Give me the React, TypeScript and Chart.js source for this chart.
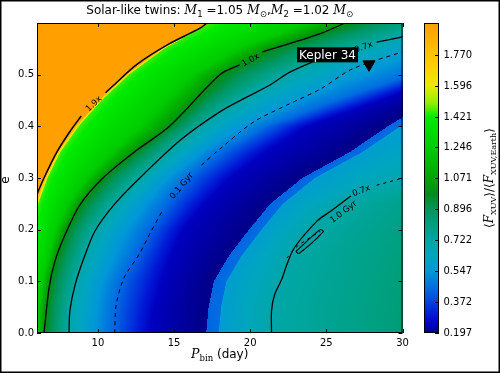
import React, { useEffect, useRef } from 'react';
import { Chart, registerables } from 'chart.js';
Chart.register(...registerables);

// ---- field description: per eccentricity row, period (days) where each level sits ----
const eRows = [0, 0.05, 0.1, 0.15, 0.2, 0.25, 0.3, 0.35, 0.4, 0.45, 0.5, 0.55, 0.6];
const pLevel190 = [4.6, 4.7, 4.9, 5.2, 5.5, 5.85, 6.46, 7.3, 8.5, 10.0, 11.8, 14.1, 17.1];
const pLevel100 = [6.45, 6.6, 6.85, 7.3, 7.9, 8.85, 10.3, 12.3, 14.6, 16.3, 18.0, 21.2, 26.3];
const pLevel070 = [8.1, 8.2, 8.55, 9.15, 9.85, 11.1, 12.75, 14.8, 16.8, 19.2, 22.3, 26.8, 32.5];
const pLevel045 = [10.8, 11.0, 11.4, 12.3, 13.2, 14.4, 15.8, 18.0, 21.0, 25.5, 30.5, 35.0, 40.0];
const pTrough = [13.4, 13.7, 14.2, 14.8, 15.6, 17.0, 18.7, 21.0, 23.7, 28.5, 33.0, 38.0, 43.0];
const pJump = [17.1, 17.25, 17.6, 18.6, 19.9, 21.3, 23.4, 26.5, 29.0, 31.8, 35.0, 40.0, 45.0];
const pOuter070 = [21.4, 21.45, 22.0, 22.7, 23.9, 25.8, 30.5, 34.0, 38.0, 41.0, 44.0, 47.0, 50.0];
const pOuter084 = [30.5, 30.6, 31.0, 31.5, 32.5, 34.0, 38.5, 42.0, 46.0, 49.0, 52.0, 55.0, 58.0];
const fieldLevels = [1.94, 1.94, 1.45, 1.24, 1.0, 0.7, 0.45, 0.24, 0.19, 0.43, 0.45, 0.58, 0.7, 0.84];

// ---- contour lines (P, e); null = gap for inline label ----
const c190P = [5.9, 6.46, 7.3, 8.16, 8.9, null, 10.5, 11.05, 12.56, 14.7, 16.7, 17.4];
const c190E = [0.262, 0.3, 0.35, 0.39, 0.42, null, 0.465, 0.48, 0.52, 0.56, 0.59, 0.605];
const c100P = [6.46, 6.79, 7.18, 7.84, 8.82, 10.33, 12.56, 14.7, 18.0, 19.3, null, 20.8, 24.56, 26.6];
const c100E = [0, 0.087, 0.139, 0.19, 0.248, 0.3, 0.354, 0.4, 0.5, 0.519, null, 0.544, 0.579, 0.605];
const c070P = [8.1, 8.16, 8.5, 9.08, 9.8, 11.05, 12.75, 15.4, 18.0, 19.8, 21.3, 22.6, 25.0, 26.9, null, 28.3, 30.3];
const c070E = [0, 0.043, 0.093, 0.145, 0.197, 0.248, 0.3, 0.373, 0.428, 0.457, 0.48, 0.505, 0.535, 0.553, null, 0.563, 0.575];
const c070bP = [21.4, 21.4, 21.6, 22.1, 22.4, 22.9, 24.4, 25.3, 26.6];
const c070bE = [0, 0.043, 0.074, 0.106, 0.132, 0.165, 0.217, 0.236, 0.265];
const c070loopP = [23.0, 24.6, 24.8, 23.2, 23.0];
const c070loopE = [0.158, 0.2, 0.196, 0.154, 0.158];
const gyr01P = [11.1, 11.2, 11.7, 12.7, 13.5, 14.2, null, 16.8, 18.0, 20.2, 22.4, 24.6, 26.7, 30.3];
const gyr01E = [0, 0.054, 0.106, 0.152, 0.197, 0.235, null, 0.325, 0.356, 0.408, 0.441, 0.472, 0.511, 0.547];
const gyr10P = [22.4, 23.1, 24.6, null, 28.3, 30.3];
const gyr10E = [0.145, 0.168, 0.197, null, 0.286, 0.302];

// ---- inline labels ----
const labelText = ['1.9x', '1.0x', '0.7x', '0.7x', '0.1 Gyr', '1.0 Gyr'];
const labelP = [9.74, 20.03, 27.45, 27.3, 15.5, 26.13];
const labelE = [0.443, 0.528, 0.553, 0.275, 0.2845, 0.234];
const labelAngle = [-43, -29, -19, -20, -50, -37];

const keplerP = [27.8];
const keplerE = [0.52];
const keplerName = 'Kepler 34';

const xTicks = [10, 15, 20, 25, 30];
const yTicks = [0, 0.1, 0.2, 0.3, 0.4, 0.5];
const cbTicks = [0.197, 0.372, 0.547, 0.722, 0.896, 1.071, 1.246, 1.421, 1.596, 1.77];
const cbMin = 0.197;
const cbMax = 1.95;

const cmapV = [0.197, 0.24, 0.3, 0.36, 0.44, 0.55, 0.64, 0.72, 0.8, 0.89, 0.98, 1.07, 1.25, 1.42, 1.5, 1.6, 1.72, 1.95];
const cmapC = [
  [0, 0, 140], [0, 0, 192], [0, 25, 215], [0, 60, 222], [0, 105, 225], [0, 152, 216],
  [0, 166, 190], [0, 166, 160], [0, 160, 130], [0, 150, 95], [0, 140, 30], [0, 165, 0],
  [0, 205, 0], [0, 235, 0], [150, 240, 0], [235, 235, 0], [255, 205, 0], [255, 158, 0],
];

function cmap(v: number): number[] {
  if (v <= cmapV[0]) return cmapC[0];
  const n = cmapV.length;
  if (v >= cmapV[n - 1]) return cmapC[n - 1];
  let i = 0;
  while (i < n - 2 && v > cmapV[i + 1]) i++;
  const t = (v - cmapV[i]) / (cmapV[i + 1] - cmapV[i]);
  const a = cmapC[i], b = cmapC[i + 1];
  return [a[0] + t * (b[0] - a[0]), a[1] + t * (b[1] - a[1]), a[2] + t * (b[2] - a[2])];
}

function interpRow(arr: number[], e: number) {
  let i = 0;
  while (i < eRows.length - 2 && e > eRows[i + 1]) i++;
  const t = (e - eRows[i]) / (eRows[i + 1] - eRows[i]);
  return arr[i] + t * (arr[i + 1] - arr[i]);
}

function rowKnots(e: number) {
  const o = interpRow(pLevel190, e);
  const j = interpRow(pJump, e);
  const a1 = interpRow(pLevel100, e);
  return [
    o - 100, o, o + 0.25, o + 0.25 + 0.7 * (a1 - o - 0.25),
    a1, interpRow(pLevel070, e), interpRow(pLevel045, e),
    interpRow(pTrough, e), j - 0.001, j, j + 0.8, j + 0.85,
    interpRow(pOuter070, e), interpRow(pOuter084, e),
  ];
}

const heatPlugin = {
  id: 'heat',
  beforeDatasetsDraw(chart: any) {
    const { ctx, chartArea: a, scales } = chart;
    const xs = scales.x, ys = scales.y;
    const W = Math.round(a.right - a.left), H = Math.round(a.bottom - a.top);
    const off = document.createElement('canvas');
    off.width = W; off.height = H;
    const octx = off.getContext('2d')!;
    const img = octx.createImageData(W, H);
    const colP = new Float64Array(W);
    for (let i = 0; i < W; i++) colP[i] = xs.getValueForPixel(a.left + (i + 0.5) * (a.right - a.left) / W);
    for (let jy = 0; jy < H; jy++) {
      const e = ys.getValueForPixel(a.top + (jy + 0.5) * (a.bottom - a.top) / H);
      const pos = rowKnots(e);
      const last = pos.length - 1;
      let k = 0;
      for (let i = 0; i < W; i++) {
        const p = colP[i];
        let v: number;
        if (p <= pos[0]) v = fieldLevels[0];
        else if (p >= pos[last]) v = fieldLevels[last];
        else {
          while (k < last - 1 && p > pos[k + 1]) k++;
          const d = pos[k + 1] - pos[k];
          const t = d > 0 ? (p - pos[k]) / d : 1;
          v = fieldLevels[k] + t * (fieldLevels[k + 1] - fieldLevels[k]);
        }
        const c = cmap(v);
        const idx = (jy * W + i) * 4;
        img.data[idx] = c[0]; img.data[idx + 1] = c[1]; img.data[idx + 2] = c[2]; img.data[idx + 3] = 255;
      }
    }
    octx.putImageData(img, 0, 0);
    ctx.drawImage(off, a.left, a.top, a.right - a.left, a.bottom - a.top);
  },
};

type Piece = { t: string; f: string; dy?: number };
function piecesWidth(ctx: CanvasRenderingContext2D, ps: Piece[]) {
  let w = 0;
  for (const p of ps) { ctx.font = p.f; w += ctx.measureText(p.t).width; }
  return w;
}
function drawPieces(ctx: CanvasRenderingContext2D, ps: Piece[], cx: number, baseY: number) {
  let x = cx - piecesWidth(ctx, ps) / 2;
  ctx.textAlign = 'left';
  ctx.textBaseline = 'alphabetic';
  for (const p of ps) {
    ctx.font = p.f;
    ctx.fillText(p.t, x, baseY + (p.dy || 0));
    x += ctx.measureText(p.t).width;
  }
}

const SANS = '"DejaVu Sans", sans-serif';
const SERIF = '"DejaVu Serif", serif';

const overlayPlugin = {
  id: 'overlay',
  afterDatasetsDraw(chart: any) {
    const { ctx, scales } = chart;
    const xs = scales.x, ys = scales.y;
    ctx.save();
    ctx.fillStyle = '#000';
    ctx.font = `8.5px ${SANS}`;
    ctx.textAlign = 'center';
    ctx.textBaseline = 'middle';
    for (let i = 0; i < labelText.length; i++) {
      const px = xs.getPixelForValue(labelP[i]);
      const py = ys.getPixelForValue(labelE[i]);
      ctx.save();
      ctx.translate(px, py);
      ctx.rotate((labelAngle[i] * Math.PI) / 180);
      ctx.fillText(labelText[i], 0, 0);
      ctx.restore();
    }
    // Kepler 34 box
    const kx = xs.getPixelForValue(keplerP[0]);
    const ky = ys.getPixelForValue(keplerE[0]);
    ctx.font = `12px ${SANS}`;
    const tw = ctx.measureText(keplerName).width;
    const bx1 = kx - 11, bx0 = bx1 - tw - 4;
    const by0 = ky - 17, by1 = ky - 2;
    ctx.fillStyle = '#000';
    ctx.fillRect(bx0, by0, bx1 - bx0, by1 - by0);
    ctx.fillStyle = '#fff';
    ctx.textAlign = 'left';
    ctx.textBaseline = 'alphabetic';
    ctx.fillText(keplerName, bx0 + 2, by1 - 3);
    ctx.restore();
  },
  afterDraw(chart: any) {
    const { ctx, chartArea: a, scales } = chart;
    const xs = scales.x, ys = scales.y;
    ctx.save();
    ctx.strokeStyle = '#000';
    ctx.lineWidth = 1;
    ctx.beginPath();
    for (const v of xTicks) {
      const px = Math.round(xs.getPixelForValue(v)) + 0.5;
      ctx.moveTo(px, a.bottom); ctx.lineTo(px, a.bottom - 4);
      ctx.moveTo(px, a.top); ctx.lineTo(px, a.top + 4);
    }
    for (const v of yTicks) {
      const py = Math.round(ys.getPixelForValue(v)) + 0.5;
      ctx.moveTo(a.left, py); ctx.lineTo(a.left + 4, py);
      ctx.moveTo(a.right, py); ctx.lineTo(a.right - 4, py);
    }
    ctx.stroke();
    ctx.strokeRect(a.left + 0.5, a.top + 0.5, a.right - a.left - 1, a.bottom - a.top - 1);

    // colorbar
    const cbL = a.right + 21.5, cbW = 15, cbT = a.top, cbB = a.bottom;
    const hh = cbB - cbT;
    for (let y = 0; y < hh; y++) {
      const v = cbMin + ((hh - y - 0.5) / hh) * (cbMax - cbMin);
      const c = cmap(v);
      ctx.fillStyle = `rgb(${c[0] | 0},${c[1] | 0},${c[2] | 0})`;
      ctx.fillRect(cbL, cbT + y, cbW, 1.02);
    }
    ctx.strokeStyle = '#000';
    ctx.strokeRect(Math.round(cbL) + 0.5, cbT + 0.5, cbW - 1, hh - 1);
    ctx.fillStyle = '#000';
    ctx.font = `10px ${SANS}`;
    ctx.textAlign = 'left';
    ctx.textBaseline = 'middle';
    ctx.beginPath();
    for (const v of cbTicks) {
      const py = Math.round(cbB - ((v - cbMin) / (cbMax - cbMin)) * hh) + 0.5;
      ctx.moveTo(cbL + cbW - 4, py); ctx.lineTo(cbL + cbW, py);
      ctx.fillText(v.toFixed(3), cbL + cbW + 4.5, py);
    }
    ctx.stroke();

    // colorbar label
    ctx.save();
    ctx.translate(489, (cbT + cbB) / 2);
    ctx.rotate(-Math.PI / 2);
    drawPieces(ctx, [
      { t: '⟨', f: `12px ${SANS}` },
      { t: 'F', f: `italic 12px ${SERIF}` },
      { t: 'XUV', f: `8px ${SERIF}`, dy: 2.5 },
      { t: '⟩', f: `12px ${SANS}` },
      { t: '/', f: `12px ${SANS}` },
      { t: '⟨', f: `12px ${SANS}` },
      { t: 'F', f: `italic 12px ${SERIF}` },
      { t: 'XUV,Earth', f: `8px ${SERIF}`, dy: 2.5 },
      { t: '⟩', f: `12px ${SANS}` },
    ], 0, 4);
    ctx.restore();

    // title
    ctx.fillStyle = '#000';
    const sub = `8.5px ${SANS}`;
    const nrm = `12px ${SANS}`;
    const mi = `italic 12.5px ${SERIF}`;
    drawPieces(ctx, [
      { t: 'Solar-like twins: ', f: nrm },
      { t: 'M', f: mi }, { t: '1', f: sub, dy: 2.5 }, { t: ' =1.05 ', f: nrm },
      { t: 'M', f: mi }, { t: '⊙', f: sub, dy: 2.5 }, { t: ',', f: nrm },
      { t: 'M', f: mi }, { t: '2', f: sub, dy: 2.5 }, { t: ' =1.02 ', f: nrm },
      { t: 'M', f: mi }, { t: '⊙', f: sub, dy: 2.5 },
    ], (a.left + a.right) / 2, 14);

    // x label
    drawPieces(ctx, [
      { t: 'P', f: mi },
      { t: 'bin', f: `8.5px ${SERIF}`, dy: 2.5 },
      { t: ' (day)', f: nrm },
    ], (a.left + a.right) / 2, 358);

    // y label
    ctx.save();
    ctx.translate(6, (a.top + a.bottom) / 2 + 2);
    ctx.rotate(-Math.PI / 2);
    ctx.font = `12px ${SANS}`;
    ctx.textAlign = 'center';
    ctx.textBaseline = 'middle';
    ctx.fillText('e', 0, 0);
    ctx.restore();

    // figure frame
    ctx.strokeStyle = '#000';
    ctx.lineWidth = 1.5;
    ctx.strokeRect(0.75, 0.75, 498.5, 371.5);
    ctx.restore();
  },
};

function mkLine(P: (number | null)[], E: (number | null)[], dash: number[] = [], width = 1.3) {
  return {
    type: 'line' as const,
    data: P.map((p, i) => ({ x: p, y: E[i] })),
    borderColor: '#000',
    borderWidth: width,
    borderDash: dash,
    pointRadius: 0,
    tension: 0.3,
    fill: false,
    spanGaps: false,
  };
}

export default function App() {
  const ref = useRef<HTMLCanvasElement>(null);
  useEffect(() => {
    document.body.style.margin = '0';
    const chart = new Chart(ref.current!, {
      type: 'scatter',
      data: {
        datasets: [
          mkLine(c190P, c190E, [], 1.5),
          mkLine(c100P, c100E),
          mkLine(c070P, c070E),
          mkLine(c070bP, c070bE),
          mkLine(c070loopP, c070loopE, [], 1.1),
          mkLine(gyr01P, gyr01E, [4, 4], 1),
          mkLine(gyr10P, gyr10E, [3, 4], 1),
          {
            type: 'scatter' as const,
            data: keplerP.map((p, i) => ({ x: p, y: keplerE[i] })),
            pointStyle: 'triangle',
            rotation: 180,
            pointRadius: 7,
            backgroundColor: '#000',
            borderColor: '#000',
          } as any,
        ] as any,
      },
      options: {
        animation: false,
        responsive: false,
        devicePixelRatio: 1,
        events: [],
        layout: { padding: { top: 23, right: 97.5, left: 0, bottom: 0 } },
        plugins: { legend: { display: false }, tooltip: { enabled: false }, title: { display: false } },
        scales: {
          x: {
            type: 'linear',
            min: 6,
            max: 30,
            grid: { display: false, drawTicks: false },
            border: { display: false },
            afterBuildTicks: (s: any) => { s.ticks = xTicks.map((v) => ({ value: v })); },
            afterFit: (s: any) => { s.height = 40; },
            ticks: { font: { family: 'DejaVu Sans', size: 10 }, color: '#000', padding: 4, maxRotation: 0, autoSkip: false },
          },
          y: {
            type: 'linear',
            min: 0,
            max: 0.6,
            grid: { display: false, drawTicks: false },
            border: { display: false },
            afterBuildTicks: (s: any) => { s.ticks = yTicks.map((v) => ({ value: v })); },
            afterFit: (s: any) => { s.width = 37; },
            ticks: {
              font: { family: 'DejaVu Sans', size: 10 }, color: '#000', padding: 3, autoSkip: false,
              callback: (v: any) => Number(v).toFixed(1),
            },
          },
        },
      } as any,
      plugins: [heatPlugin, overlayPlugin],
    });
    return () => chart.destroy();
  }, []);
  return (
    <div style={{ width: 500, height: 373 }}>
      <canvas ref={ref} width={500} height={373} style={{ display: 'block' }} />
    </div>
  );
}
